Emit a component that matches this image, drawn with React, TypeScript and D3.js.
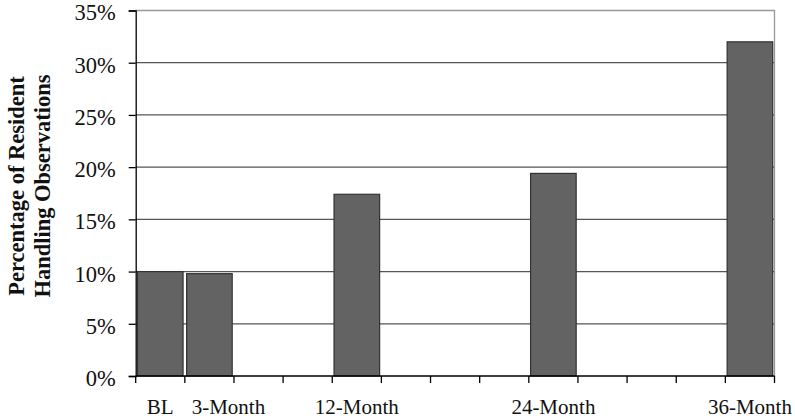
import React, { useEffect, useRef } from "react";
import * as d3 from "d3";

// months on the x axis, one band per 3 months
const months = [0, 3, 6, 9, 12, 15, 18, 21, 24, 27, 30, 33, 36];
const monthLabels = ["BL", "3-Month", "", "", "12-Month", "", "", "", "24-Month", "", "", "", "36-Month"];
const barMonths = [0, 3, 12, 24, 36];
const barValues = [10.0, 9.8, 17.4, 19.4, 32.0];
const yTicks = [0, 5, 10, 15, 20, 25, 30, 35];
const yTitle = ["Percentage of Resident", "Handling Observations"];

const App = () => {
	const svgRef = useRef<SVGSVGElement>(null);

	useEffect(() => {
		const width = 795;
		const height = 418;
		const svg = d3.select(svgRef.current);
		svg.selectAll("*").remove();
		svg.attr("width", width).attr("height", height);

		const font = "'Liberation Serif', 'Times New Roman', serif";
		const left = 135.7;
		const right = 774.5;
		const top = 10.5;
		const bottom = 376;

		const x = d3
			.scaleBand<number>()
			.domain(months)
			.range([left, right])
			.paddingInner(0.072)
			.paddingOuter(0.036);

		const y = d3.scaleLinear().domain([0, 35]).range([bottom, top]);

		// gridlines
		svg
			.append("g")
			.selectAll("line")
			.data(yTicks.filter((d) => d > 0 && d < 35))
			.enter()
			.append("line")
			.attr("x1", left)
			.attr("x2", right)
			.attr("y1", (d) => y(d))
			.attr("y2", (d) => y(d))
			.attr("stroke", "#555")
			.attr("stroke-width", 1.3);

		// plot border top/right
		svg
			.append("path")
			.attr("d", `M${left},${y(35)}H${right}V${bottom}`)
			.attr("fill", "none")
			.attr("stroke", "#999")
			.attr("stroke-width", 1.3);

		// bars
		svg
			.append("g")
			.selectAll("rect")
			.data(barMonths.map((m, i) => ({ m, v: barValues[i] })))
			.enter()
			.append("rect")
			.attr("x", (d) => x(d.m)!)
			.attr("width", x.bandwidth())
			.attr("y", (d) => y(d.v))
			.attr("height", (d) => bottom - y(d.v))
			.attr("fill", "#636363")
			.attr("stroke", "#333")
			.attr("stroke-width", 1.2);

		// y axis
		const yAxis = d3
			.axisLeft(y)
			.tickValues(yTicks)
			.tickSize(7)
			.tickPadding(13)
			.tickFormat((d) => `${d}%`);
		const gy = svg.append("g").attr("transform", `translate(${left},0)`).call(yAxis);
		gy.select(".domain").attr("stroke", "#000").attr("stroke-width", 1.3);
		gy.selectAll(".tick line").attr("stroke", "#000").attr("stroke-width", 1.3);
		gy.selectAll(".tick text")
			.attr("font-family", font)
			.attr("font-size", 22.5)
			.attr("dy", "0.42em")
			.attr("fill", "#111");

		// x axis baseline and ticks at band edges
		const step = x.step();
		svg
			.append("line")
			.attr("x1", left)
			.attr("x2", right)
			.attr("y1", bottom)
			.attr("y2", bottom)
			.attr("stroke", "#000")
			.attr("stroke-width", 1.3);
		svg
			.append("g")
			.selectAll("line")
			.data(d3.range(months.length + 1))
			.enter()
			.append("line")
			.attr("x1", (i) => left + i * step)
			.attr("x2", (i) => left + i * step)
			.attr("y1", bottom)
			.attr("y2", bottom + 7)
			.attr("stroke", "#000")
			.attr("stroke-width", 1.3);

		// the 3-Month label is nudged right so it clears "BL", as in the original
		svg
			.append("g")
			.selectAll("text")
			.data(months)
			.enter()
			.append("text")
			.attr("x", (m) => x(m)! + x.bandwidth() / 2)
			.attr("dx", (m, i) => (i === 1 ? 19 : 0))
			.attr("y", 414)
			.attr("text-anchor", "middle")
			.attr("font-family", font)
			.attr("font-size", 21)
			.attr("fill", "#111")
			.text((m, i) => monthLabels[i]);

		// y title
		svg
			.append("g")
			.selectAll("text")
			.data(yTitle)
			.enter()
			.append("text")
			.attr("transform", (d, i) => `translate(${24 + i * 26},186) rotate(-90)`)
			.attr("text-anchor", "middle")
			.attr("font-family", font)
			.attr("font-weight", "bold")
			.attr("font-size", 22.5)
			.attr("fill", "#111")
			.text((d) => d);
	}, []);

	return (
		<div style={{ position: "absolute", left: 0, top: 0, background: "#fff" }}>
			<svg ref={svgRef} style={{ display: "block" }}></svg>
		</div>
	);
};

export default App;
